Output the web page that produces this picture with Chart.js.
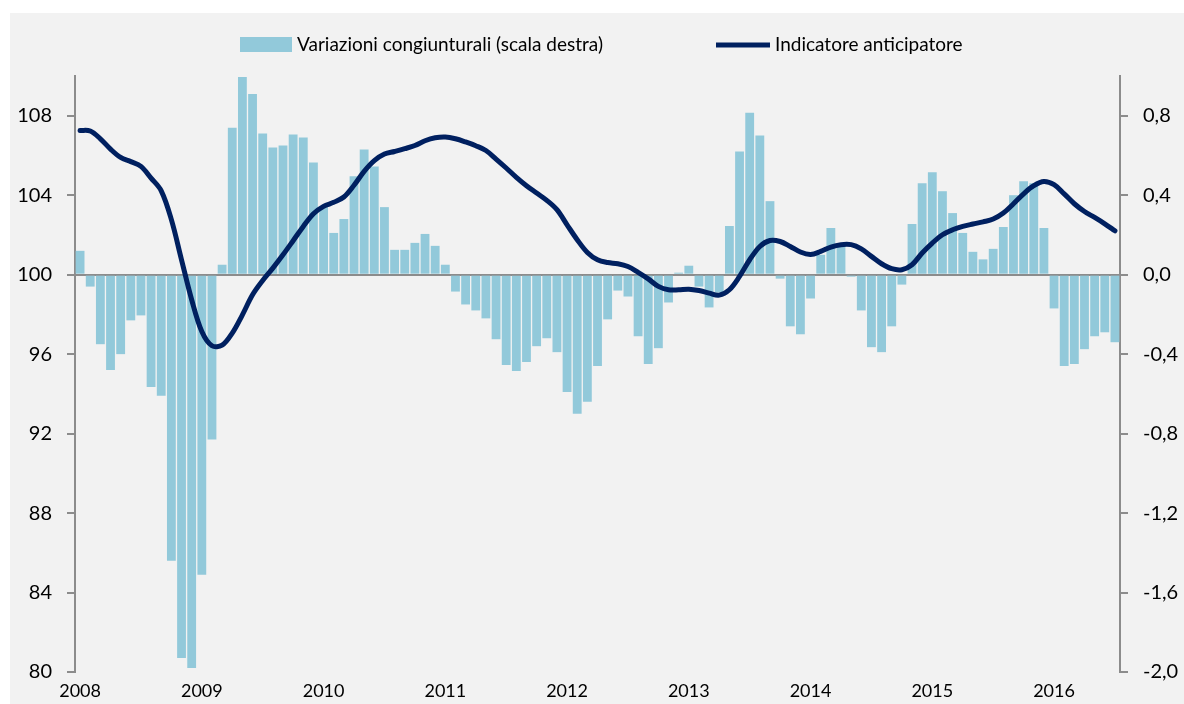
<!DOCTYPE html>
<html>
<head>
<meta charset="utf-8">
<title>Indicatore anticipatore</title>
<script src="https://cdn.jsdelivr.net/npm/chart.js@4.4.1/dist/chart.umd.min.js"></script>
<style>
  html, body { margin: 0; padding: 0; background: #fff; }
  #wrap { width: 1184px; height: 704px; position: relative; }
</style>
</head>
<body>
<div id="wrap"><canvas id="chart"></canvas></div>
<script>
// years shown on the x axis, one label per January
var years = ["2008", "2009", "2010", "2011", "2012", "2013", "2014", "2015", "2016"];
var monthCount = 103; // Jan 2008 .. Jul 2016

// month-on-month changes (right axis)
var variazioni = [
  0.12, -0.06, -0.35, -0.48, -0.40, -0.23, -0.205, -0.565, -0.61, -1.44, -1.93, -1.98,
  -1.51, -0.83, 0.05, 0.74, 0.995, 0.91, 0.71, 0.64, 0.65, 0.705, 0.69, 0.565,
  0.34, 0.21, 0.28, 0.495, 0.63, 0.545, 0.34, 0.125, 0.125, 0.16, 0.205, 0.145,
  0.05, -0.085, -0.15, -0.18, -0.22, -0.325, -0.455, -0.485, -0.44, -0.36, -0.32, -0.39,
  -0.59, -0.70, -0.64, -0.46, -0.225, -0.08, -0.11, -0.31, -0.45, -0.37, -0.14, 0.01,
  0.045, -0.06, -0.165, -0.09, 0.245, 0.62, 0.815, 0.70, 0.37, -0.02, -0.26, -0.30,
  -0.12, 0.10, 0.235, 0.14, -0.01, -0.18, -0.365, -0.39, -0.26, -0.05, 0.255, 0.46,
  0.515, 0.42, 0.31, 0.21, 0.115, 0.077, 0.13, 0.24, 0.40, 0.47, 0.46, 0.235,
  -0.17, -0.46, -0.45, -0.375, -0.31, -0.29, -0.34
];

// leading indicator level (left axis)
var indicatore = [
  107.26, 107.23, 106.84, 106.32, 105.90, 105.69, 105.45, 104.86, 104.22, 102.77, 100.75, 98.74,
  97.14, 96.42, 96.45, 97.06, 97.98, 98.99, 99.71, 100.33, 101.00, 101.71, 102.43, 103.07,
  103.44, 103.64, 103.91, 104.50, 105.20, 105.74, 106.07, 106.20, 106.34, 106.50, 106.74, 106.89,
  106.93, 106.84, 106.68, 106.49, 106.25, 105.82, 105.37, 104.90, 104.48, 104.11, 103.74, 103.27,
  102.51, 101.76, 101.12, 100.75, 100.61, 100.55, 100.41, 100.12, 99.79, 99.41, 99.24, 99.24,
  99.27, 99.20, 99.07, 98.97, 99.24, 99.91, 100.75, 101.42, 101.72, 101.67, 101.42, 101.14,
  101.02, 101.17, 101.39, 101.51, 101.51, 101.30, 100.92, 100.55, 100.30, 100.25, 100.50, 101.09,
  101.59, 102.01, 102.26, 102.43, 102.55, 102.66, 102.80, 103.10, 103.57, 104.07, 104.48, 104.69,
  104.53, 104.07, 103.57, 103.18, 102.88, 102.56, 102.21
];

var leftTicks = [80, 84, 88, 92, 96, 100, 104, 108];
var rightTicks = [-2.0, -1.6, -1.2, -0.8, -0.4, 0.0, 0.4, 0.8];

var barColor = "#92c9da";
var lineColor = "#002060";
var axisColor = "#8c8c8c";
var fontName = "Lato, 'Open Sans', sans-serif";

var months = [];
for (var i = 0; i < monthCount; i++) {
  months.push(years[Math.floor(i / 12)] + "-" + String((i % 12) + 1).padStart(2, "0"));
}

// grey panel behind the chart
var panelPlugin = {
  id: "panel",
  beforeDraw: function (chart) {
    var c = chart.ctx;
    c.save();
    c.fillStyle = "#ffffff";
    c.fillRect(0, 0, chart.width, chart.height);
    c.fillStyle = "#f2f2f2";
    c.fillRect(10, 13, chart.width - 10, chart.height - 13);
    c.restore();
  }
};

// legend row drawn by hand to get the wide swatches of the original
var legendPlugin = {
  id: "topLegend",
  afterDraw: function (chart) {
    var c = chart.ctx;
    var y = 45;
    c.save();
    c.font = "19px " + fontName;
    c.textBaseline = "middle";
    c.textAlign = "left";
    c.fillStyle = barColor;
    c.fillRect(240, 37, 52, 15);
    c.fillStyle = "#000";
    c.fillText(chart.data.datasets[0].label, 297, y);
    c.strokeStyle = lineColor;
    c.lineWidth = 5;
    c.beginPath();
    c.moveTo(716, y);
    c.lineTo(770, y);
    c.stroke();
    c.fillStyle = "#000";
    c.fillText(chart.data.datasets[1].label, 775, y);
    c.restore();
  }
};

var ctx = document.getElementById("chart").getContext("2d");

new Chart(ctx, {
  data: {
    labels: months,
    datasets: [
      {
        type: "bar",
        label: "Variazioni congiunturali (scala destra)",
        data: variazioni,
        yAxisID: "y2",
        backgroundColor: barColor,
        borderWidth: 0,
        barPercentage: 0.87,
        categoryPercentage: 1.0,
        order: 2
      },
      {
        type: "line",
        label: "Indicatore anticipatore",
        data: indicatore,
        yAxisID: "y",
        borderColor: lineColor,
        backgroundColor: lineColor,
        borderWidth: 5,
        pointRadius: 0,
        tension: 0.35,
        borderCapStyle: "round",
        borderJoinStyle: "round",
        order: 1
      }
    ]
  },
  options: {
    responsive: true,
    maintainAspectRatio: false,
    animation: false,
    layout: { padding: { top: 76, left: 0, right: 0, bottom: 0 } },
    plugins: {
      legend: { display: false },
      tooltip: { enabled: false }
    },
    scales: {
      x: {
        offset: true,
        grid: { display: false, drawTicks: false },
        border: { display: false },
        ticks: {
          autoSkip: false,
          maxRotation: 0,
          padding: 8,
          color: "#000",
          font: { family: fontName, size: 18 },
          callback: function (value, index) {
            return index % 12 === 0 ? years[index / 12] : "";
          }
        },
        afterFit: function (scale) { scale.height = 32; }
      },
      y: {
        position: "left",
        min: 80,
        max: 110,
        afterBuildTicks: function (scale) {
          scale.ticks = leftTicks.map(function (v) { return { value: v }; });
        },
        grid: { drawOnChartArea: false, tickLength: 8, color: axisColor, lineWidth: 2 },
        border: { display: true, color: axisColor, width: 2 },
        ticks: {
          padding: 15,
          color: "#000",
          font: { family: fontName, size: 20 },
          callback: function (v) { return String(v); }
        },
        afterFit: function (scale) { scale.width = 75; }
      },
      y2: {
        position: "right",
        min: -2,
        max: 1,
        afterBuildTicks: function (scale) {
          scale.ticks = rightTicks.map(function (v) { return { value: v }; });
        },
        grid: {
          drawOnChartArea: true,
          tickLength: 8,
          lineWidth: 2,
          tickColor: axisColor,
          color: function (c) {
            return c.tick && Math.abs(c.tick.value) < 1e-9 ? axisColor : "rgba(0,0,0,0)";
          }
        },
        border: { display: true, color: axisColor, width: 2 },
        ticks: {
          padding: 15,
          color: "#000",
          font: { family: fontName, size: 20 },
          callback: function (v) { return Number(v).toFixed(1).replace(".", ","); }
        },
        afterFit: function (scale) { scale.width = 64; }
      }
    }
  },
  plugins: [panelPlugin, legendPlugin]
});
</script>
</body>
</html>
